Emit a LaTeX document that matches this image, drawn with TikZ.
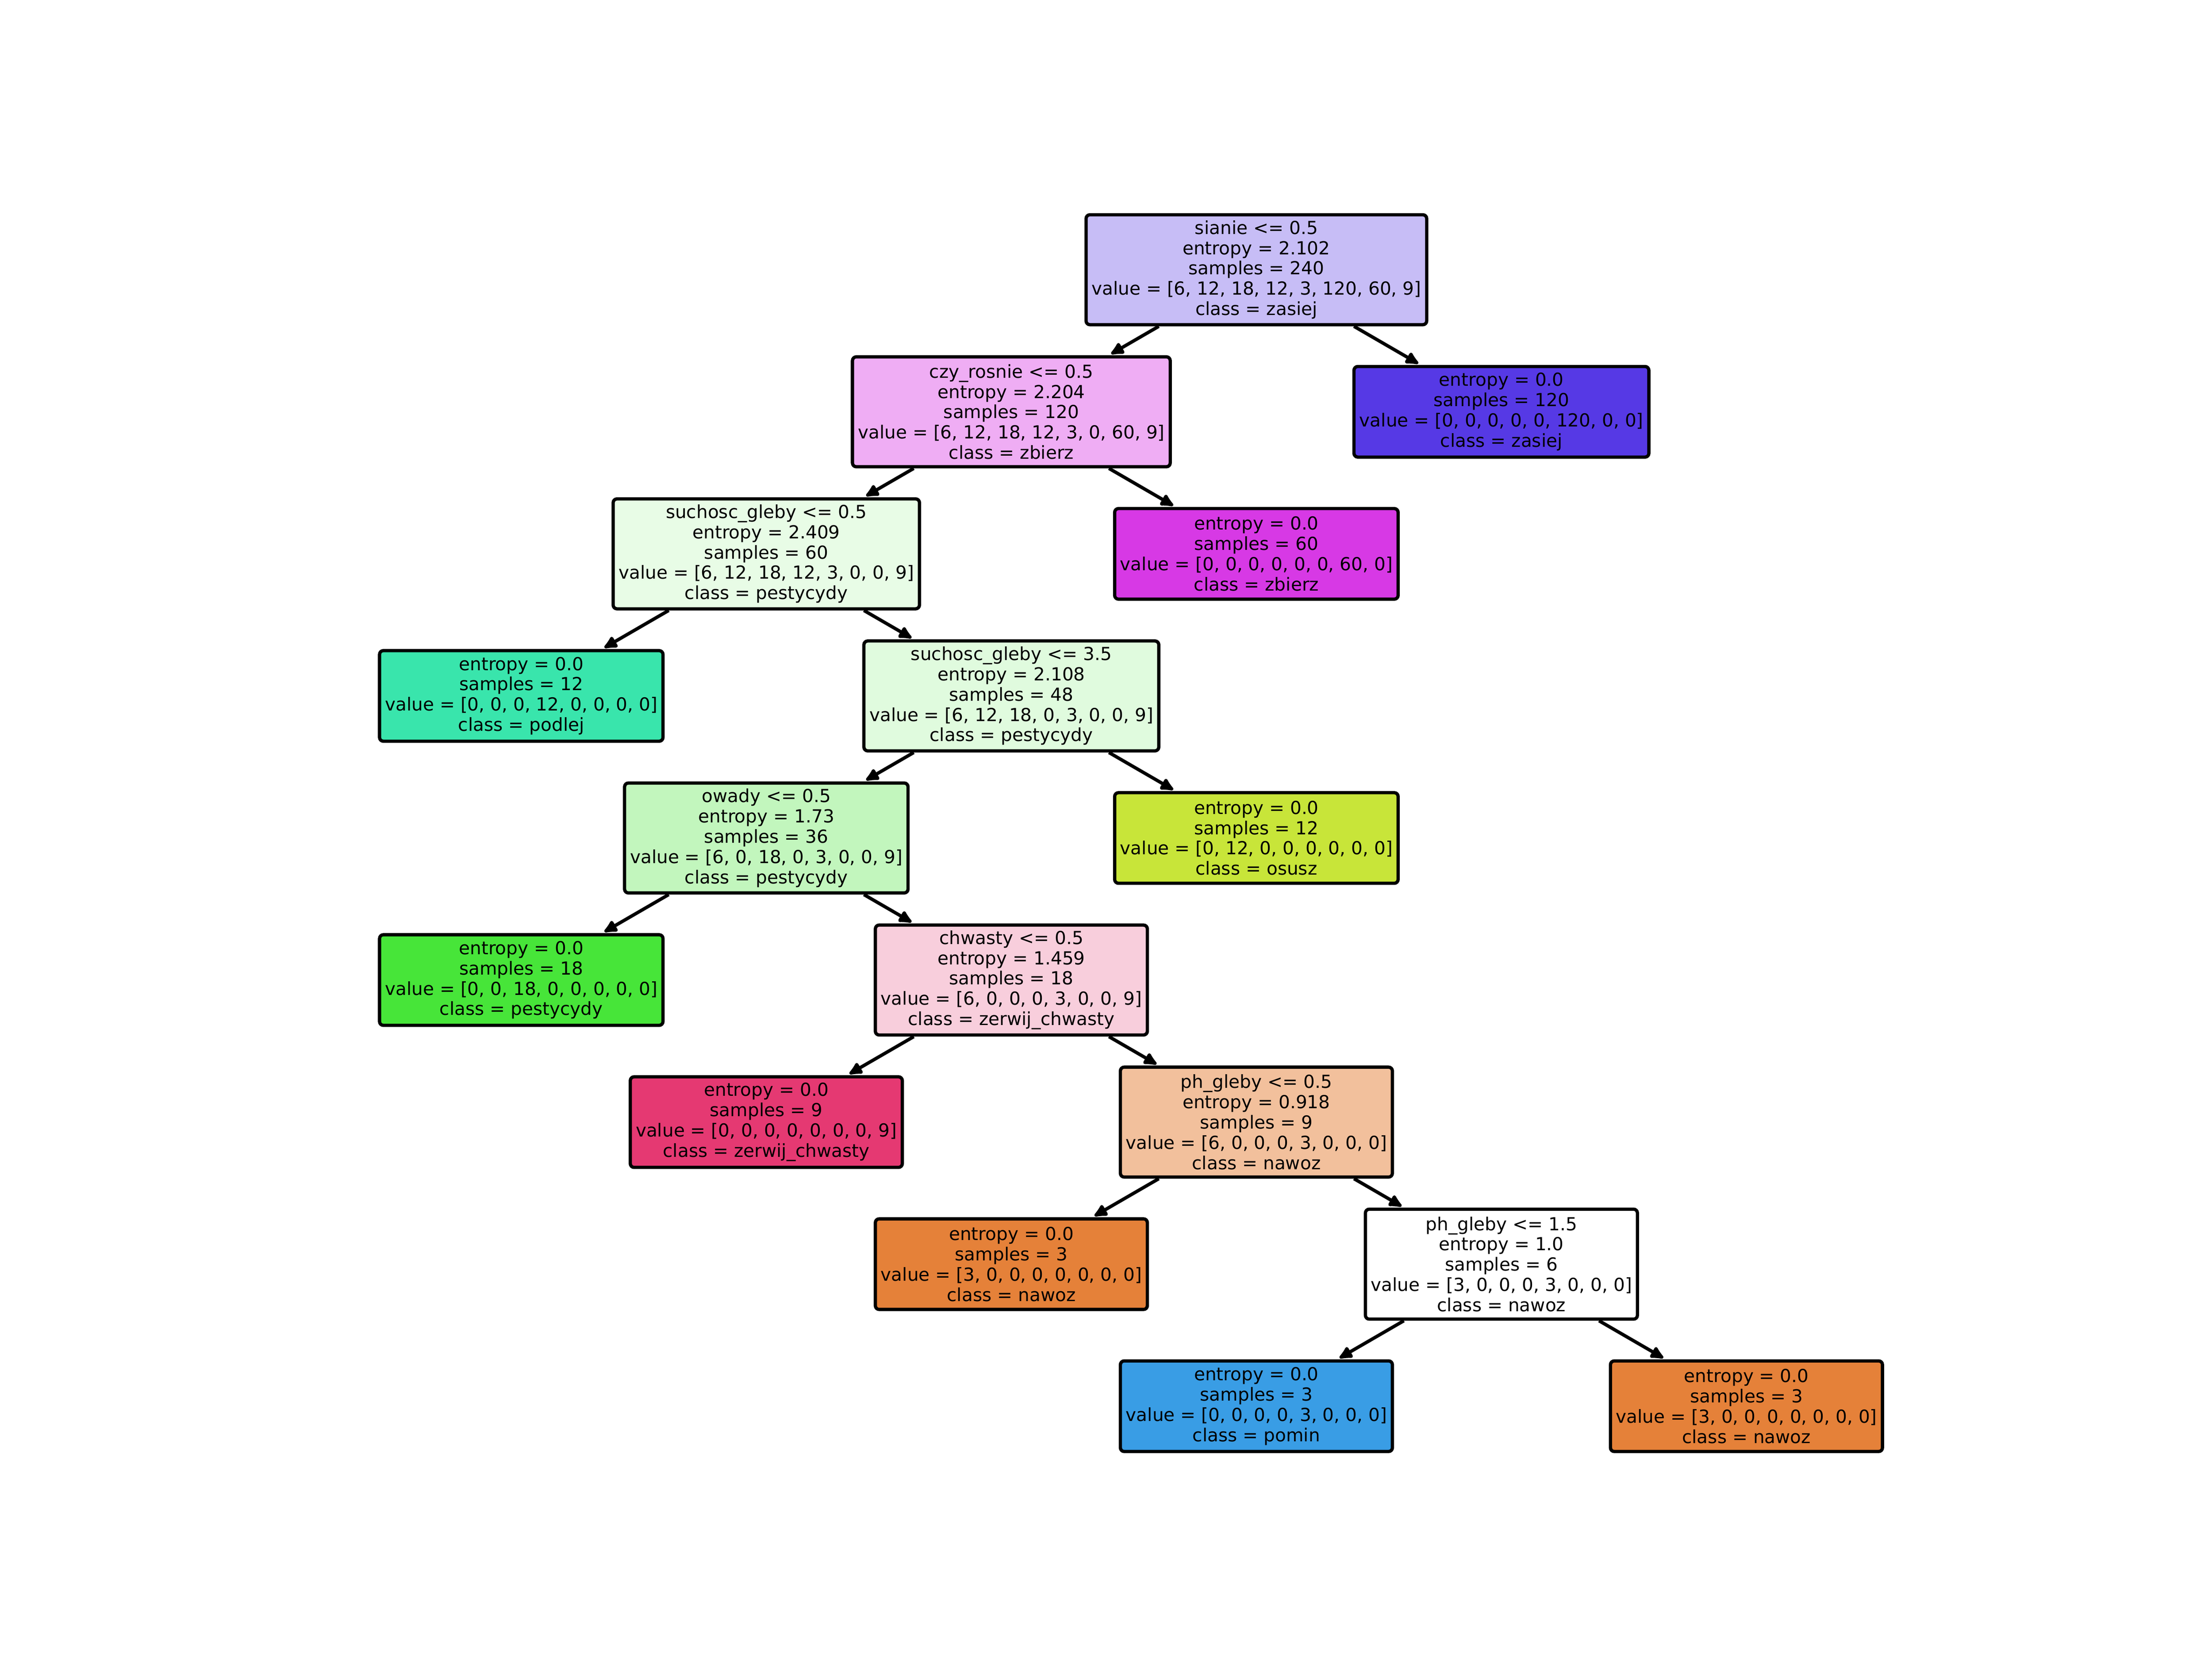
\documentclass[tikz,border=0pt]{standalone}
\usepackage{fontspec}
\setmainfont{DejaVu Sans}
\usetikzlibrary{arrows.meta}
\definecolor{cRoot}{HTML}{C7BDF6}
\definecolor{cZasiej}{HTML}{5639E5}
\definecolor{cCzy}{HTML}{EFADF4}
\definecolor{cZbierz}{HTML}{D739E5}
\definecolor{cSuchA}{HTML}{E8FCE6}
\definecolor{cPodlej}{HTML}{39E5AC}
\definecolor{cSuchB}{HTML}{E0FBDE}
\definecolor{cOsusz}{HTML}{C8E539}
\definecolor{cOwady}{HTML}{C2F6BD}
\definecolor{cPest}{HTML}{47E539}
\definecolor{cChw}{HTML}{F8CEDC}
\definecolor{cZerwij}{HTML}{E53972}
\definecolor{cPhA}{HTML}{F2C09C}
\definecolor{cNawoz}{HTML}{E58139}
\definecolor{cPomin}{HTML}{399DE5}
\tikzset{
  box/.style={draw=black, line width=1.7pt, rounded corners=0.07cm, align=center,
    inner xsep=0.1cm, inner ysep=0pt, text=black,
    font=\fontsize{9.4pt}{10.6pt}\selectfont},
  inner/.style={box, minimum height=2.02cm},
  leaf/.style={box, minimum height=1.665cm},
  arr/.style={line width=1.75pt, -{Latex[length=0.3cm,width=0.28cm,round]}, shorten >=0.05cm}
}
\begin{document}
\begin{tikzpicture}[x=0.025918cm, y=-0.025918cm]
\fill[white] (0,0) rectangle (1568,1176);
\useasboundingbox (0,0) rectangle (1568,1176);
% level 0
\node[inner, fill=cRoot] (root) at (890.6,191.2) {sianie <= 0.5\\entropy = 2.102\\samples = 240\\value = [6, 12, 18, 12, 3, 120, 60, 9]\\class = zasiej};
% level 1
\node[inner, fill=cCzy] (czy) at (716.9,291.9) {czy\_rosnie <= 0.5\\entropy = 2.204\\samples = 120\\value = [6, 12, 18, 12, 3, 0, 60, 9]\\class = zbierz};
\node[leaf, fill=cZasiej] (zas) at (1064.3,291.9) {entropy = 0.0\\samples = 120\\value = [0, 0, 0, 0, 0, 120, 0, 0]\\class = zasiej};
% level 2
\node[inner, fill=cSuchA] (sucha) at (543.2,392.6) {suchosc\_gleby <= 0.5\\entropy = 2.409\\samples = 60\\value = [6, 12, 18, 12, 3, 0, 0, 9]\\class = pestycydy};
\node[leaf, fill=cZbierz] (zbi) at (890.6,392.6) {entropy = 0.0\\samples = 60\\value = [0, 0, 0, 0, 0, 0, 60, 0]\\class = zbierz};
% level 3
\node[leaf, fill=cPodlej] (pod) at (369.5,493.3) {entropy = 0.0\\samples = 12\\value = [0, 0, 0, 12, 0, 0, 0, 0]\\class = podlej};
\node[inner, fill=cSuchB] (suchb) at (716.9,493.3) {suchosc\_gleby <= 3.5\\entropy = 2.108\\samples = 48\\value = [6, 12, 18, 0, 3, 0, 0, 9]\\class = pestycydy};
% level 4
\node[inner, fill=cOwady] (owa) at (543.2,594.0) {owady <= 0.5\\entropy = 1.73\\samples = 36\\value = [6, 0, 18, 0, 3, 0, 0, 9]\\class = pestycydy};
\node[leaf, fill=cOsusz] (osu) at (890.6,594.0) {entropy = 0.0\\samples = 12\\value = [0, 12, 0, 0, 0, 0, 0, 0]\\class = osusz};
% level 5
\node[leaf, fill=cPest] (pes) at (369.5,694.7) {entropy = 0.0\\samples = 18\\value = [0, 0, 18, 0, 0, 0, 0, 0]\\class = pestycydy};
\node[inner, fill=cChw] (chw) at (716.9,694.7) {chwasty <= 0.5\\entropy = 1.459\\samples = 18\\value = [6, 0, 0, 0, 3, 0, 0, 9]\\class = zerwij\_chwasty};
% level 6
\node[leaf, fill=cZerwij] (zer) at (543.2,795.4) {entropy = 0.0\\samples = 9\\value = [0, 0, 0, 0, 0, 0, 0, 9]\\class = zerwij\_chwasty};
\node[inner, fill=cPhA] (pha) at (890.6,795.4) {ph\_gleby <= 0.5\\entropy = 0.918\\samples = 9\\value = [6, 0, 0, 0, 3, 0, 0, 0]\\class = nawoz};
% level 7
\node[leaf, fill=cNawoz] (naw1) at (716.9,896.1) {entropy = 0.0\\samples = 3\\value = [3, 0, 0, 0, 0, 0, 0, 0]\\class = nawoz};
\node[inner, fill=white] (phb) at (1064.3,896.1) {ph\_gleby <= 1.5\\entropy = 1.0\\samples = 6\\value = [3, 0, 0, 0, 3, 0, 0, 0]\\class = nawoz};
% level 8
\node[leaf, fill=cPomin] (pom) at (890.6,996.8) {entropy = 0.0\\samples = 3\\value = [0, 0, 0, 0, 3, 0, 0, 0]\\class = pomin};
\node[leaf, fill=cNawoz] (naw2) at (1238.0,996.8) {entropy = 0.0\\samples = 3\\value = [3, 0, 0, 0, 0, 0, 0, 0]\\class = nawoz};
% edges
\draw[arr] (root) -- (czy);
\draw[arr] (root) -- (zas);
\draw[arr] (czy) -- (sucha);
\draw[arr] (czy) -- (zbi);
\draw[arr] (sucha) -- (pod);
\draw[arr] (sucha) -- (suchb);
\draw[arr] (suchb) -- (owa);
\draw[arr] (suchb) -- (osu);
\draw[arr] (owa) -- (pes);
\draw[arr] (owa) -- (chw);
\draw[arr] (chw) -- (zer);
\draw[arr] (chw) -- (pha);
\draw[arr] (pha) -- (naw1);
\draw[arr] (pha) -- (phb);
\draw[arr] (phb) -- (pom);
\draw[arr] (phb) -- (naw2);
\end{tikzpicture}
\end{document}
